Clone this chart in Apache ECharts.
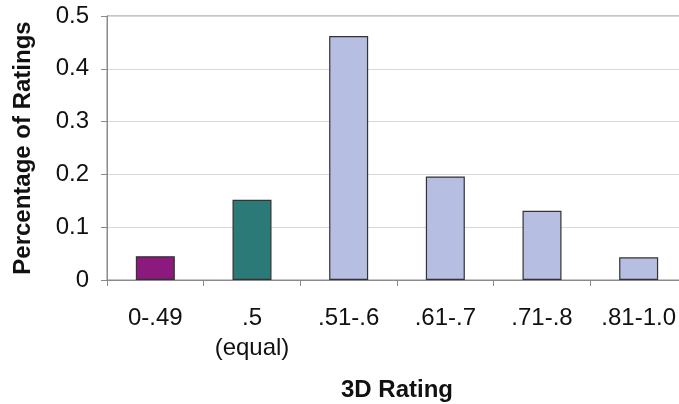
<!DOCTYPE html>
<html>
<head>
<meta charset="utf-8">
<script src="https://cdn.jsdelivr.net/npm/echarts@6/dist/echarts.min.js"></script>
<style>
  html, body { margin: 0; padding: 0; background: #fff; }
  #chart { width: 679px; height: 404px; }
</style>
</head>
<body>
<div id="chart"></div>
<script>
// Rating bins and the share of ratings falling in each
const categories = ['0-.49', '.5\n(equal)', '.51-.6', '.61-.7', '.71-.8', '.81-1.0'];
const shares = [0.045, 0.152, 0.462, 0.196, 0.131, 0.043];
const barColors = ['#8c1a7e', '#2b7a78', '#b6bee2', '#b6bee2', '#b6bee2', '#b6bee2'];
const yTicks = { min: 0, max: 0.5, step: 0.1 };

const font = '"Liberation Sans", Arial, sans-serif';

const chart = echarts.init(document.getElementById('chart'), null, { renderer: 'canvas' });
chart.setOption({
  backgroundColor: '#ffffff',
  animation: false,
  grid: {
    left: 107, top: 16, right: -8, bottom: 124,
    outerBoundsMode: 'none',
    show: true, borderColor: '#8a8a8a', borderWidth: 1, backgroundColor: 'transparent'
  },
  xAxis: {
    type: 'category',
    data: categories,
    name: '3D Rating',
    nameLocation: 'middle',
    nameGap: 98,
    nameTextStyle: { fontFamily: font, fontSize: 24, fontWeight: 'bold', color: '#111' },
    axisLine: { lineStyle: { color: '#8a8a8a', width: 1 } },
    axisTick: { show: true, interval: 0, alignWithLabel: false, length: 6, lineStyle: { color: '#8a8a8a' } },
    axisLabel: { interval: 0, hideOverlap: false, fontFamily: font, fontSize: 24, color: '#111', margin: 23, lineHeight: 30 },
    splitLine: { show: false }
  },
  yAxis: {
    type: 'value',
    min: yTicks.min,
    max: yTicks.max,
    interval: yTicks.step,
    name: 'Percentage of Ratings',
    nameLocation: 'middle',
    nameRotate: 90,
    nameGap: 72,
    nameTextStyle: { fontFamily: font, fontSize: 24, fontWeight: 'bold', color: '#111' },
    axisLine: { show: true, lineStyle: { color: '#8a8a8a', width: 1 } },
    axisTick: { show: true, length: 6, lineStyle: { color: '#8a8a8a' } },
    axisLabel: {
      fontFamily: font, fontSize: 24, color: '#111', margin: 18,
      formatter: v => (v === 0 ? '0' : v.toFixed(1))
    },
    splitLine: { show: true, lineStyle: { color: '#d8d8d8', width: 1 } }
  },
  series: [{
    type: 'bar',
    barWidth: 39,
    data: shares.map((v, i) => ({
      value: v,
      itemStyle: { color: barColors[i], borderColor: '#333', borderWidth: 1.2 }
    }))
  }]
});
</script>
</body>
</html>
